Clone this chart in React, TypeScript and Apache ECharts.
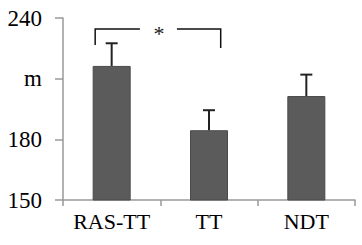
import React, { useEffect, useRef } from "react";
import * as echarts from "echarts";

const categories = ["RAS-TT", "TT", "NDT"];
const means = [216.3, 184.5, 201.4];
const errorTops = [227.5, 194.4, 212];
const yTickLabels: Record<number, string> = { 150: "150", 180: "180", 210: "m", 240: "240" };
const bracketValue = 234.6;
const bracketLeftEnd = 226.7;
const bracketRightEnd = 225.2;

export default function App() {
  const ref = useRef<HTMLDivElement>(null);
  useEffect(() => {
    const chart = echarts.init(ref.current!, null, { renderer: "svg" });
    const font = "Liberation Serif";
    chart.setOption({
      animation: false,
      textStyle: { fontFamily: font },
      grid: { left: 63, right: 7, top: 18, bottom: 45 },
      xAxis: {
        type: "category",
        data: categories,
        axisLine: { lineStyle: { color: "#999", width: 1.5 } },
        axisTick: { show: true, length: 6, lineStyle: { color: "#999", width: 1.5 } },
        axisLabel: { color: "#000", fontFamily: font, fontSize: 22, margin: 10, interval: 0 },
      },
      yAxis: {
        type: "value",
        min: 150,
        max: 240,
        interval: 30,
        splitLine: { show: false },
        axisLine: { show: true, lineStyle: { color: "#999", width: 1.5 } },
        axisTick: { show: true, length: 8, lineStyle: { color: "#999", width: 1.5 } },
        axisLabel: {
          color: "#000",
          fontFamily: font,
          fontSize: 23,
          margin: 21,
          formatter: (v: number) => yTickLabels[v] ?? String(v),
        },
      },
      series: [
        {
          type: "bar",
          data: means,
          barWidth: 38,
          itemStyle: { color: "#5b5b5b", borderColor: "#4a4a4a", borderWidth: 1 },
        },
        {
          type: "custom",
          data: categories.map((c, i) => [i, means[i], errorTops[i]]),
          renderItem: (params: any, api: any) => {
            const x = api.coord([api.value(0), api.value(1)])[0];
            const yLow = api.coord([api.value(0), api.value(1)])[1];
            const yHigh = api.coord([api.value(0), api.value(2)])[1];
            const style = { stroke: "#222", lineWidth: 2 };
            return {
              type: "group",
              children: [
                { type: "line", shape: { x1: x, y1: yLow, x2: x, y2: yHigh }, style },
                { type: "line", shape: { x1: x - 6, y1: yHigh, x2: x + 6, y2: yHigh }, style },
              ],
            };
          },
          z: 5,
        },
        {
          type: "custom",
          data: [[0, 1, bracketValue, bracketLeftEnd, bracketRightEnd]],
          renderItem: (params: any, api: any) => {
            const xl = api.coord([api.value(0), bracketValue])[0] - 16.5;
            const xr = api.coord([api.value(1), bracketValue])[0] + 11.7;
            const y = api.coord([0, api.value(2)])[1];
            const yl = api.coord([0, api.value(3)])[1];
            const yr = api.coord([0, api.value(4)])[1];
            const xm = (xl + xr) / 2 + 3;
            const style = { stroke: "#111", lineWidth: 1.5, fill: "none" };
            return {
              type: "group",
              children: [
                { type: "polyline", shape: { points: [[xl, yl], [xl, y], [xm - 21, y]] }, style },
                { type: "polyline", shape: { points: [[xm + 16, y], [xr, y], [xr, yr]] }, style },
                {
                  type: "text",
                  style: {
                    text: "*",
                    x: xm - 2,
                    y: y + 5,
                    fontFamily: font,
                    fontSize: 22,
                    fill: "#222",
                    align: "center",
                    verticalAlign: "middle",
                  },
                },
              ],
            };
          },
          z: 5,
        },
      ],
    });
    return () => chart.dispose();
  }, []);
  return <div ref={ref} style={{ width: 362, height: 245, position: "absolute", left: 0, top: 0, background: "#fff" }} />;
}
